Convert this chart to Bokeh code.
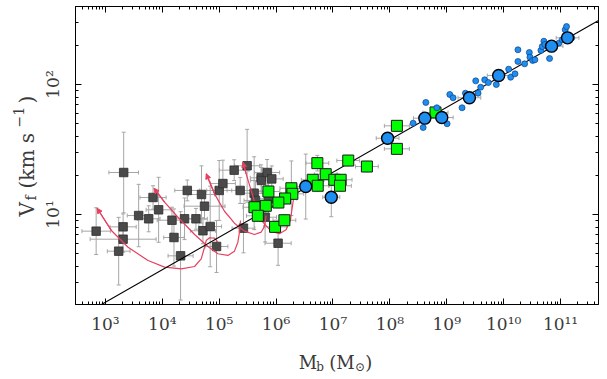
import math
from bokeh.plotting import figure
from bokeh.layouts import row, column
from bokeh.models import (Range1d, LogAxis, FixedTicker, ColumnDataSource, Whisker,
                          TeeHead, Arrow, NormalHead, Label)
from bokeh.embed import file_html
from bokeh.resources import INLINE

# ---------------- data (log10 Mb [Msun], log10 Vf [km/s], errors in dex) ----------------
gray_logm = [2.837, 3.321, 3.311, 3.311, 3.233, 3.584, 3.760, 3.837, 3.935, 4.170, 4.205, 4.321,
             4.391, 4.439, 4.591, 4.689, 4.714, 4.742, 4.842, 4.953, 5.000, 5.065, 5.263, 5.368,
             5.426, 5.491, 5.614, 5.637, 5.737, 5.742, 5.842, 5.807, 5.865, 6.035, 5.924]
gray_logv = [0.872, 1.323, 0.905, 0.810, 0.718, 0.992, 0.967, 1.131, 1.036, 0.956, 0.823, 0.682,
             0.967, 1.185, 0.967, 1.154, 0.875, 1.064, 0.908, 0.754, 1.185, 1.238, 1.341, 1.185,
             0.895, 1.375, 1.164, 1.108, 1.282, 1.262, 1.323, 0.979, 1.121, 0.779, 1.274]
gray_xerr = [0.25, 0.26, 0.23, 0.58, 0.20, 0.20, 0.20, 0.23, 0.22, 0.26, 0.18, 0.22,
             0.23, 0.22, 0.20, 0.23, 0.22, 0.36, 0.20, 0.20, 0.22, 0.22, 0.26, 0.23,
             0.20, 0.22, 0.22, 0.20, 0.19, 0.19, 0.22, 0.20, 0.20, 0.23, 0.20]
gray_yerr = [0.18, 0.31, 0.10, 0.10, 0.26, 0.24, 0.10, 0.09, 0.25, 0.10, 0.22, 0.34,
             0.16, 0.08, 0.08, 0.22, 0.10, 0.10, 0.31, 0.20, 0.23, 0.18, 0.08, 0.10,
             0.19, 0.28, 0.28, 0.15, 0.10, 0.10, 0.10, 0.19, 0.12, 0.17, 0.10]

green_logm = [6.725, 7.268, 7.596, 6.872, 6.644, 6.732, 7.023, 7.135, 7.123, 6.268, 6.286,
              6.158, 6.040, 5.865, 5.819, 5.619, 5.679, 5.982, 6.146, 8.123, 8.123, 8.802]
green_logv = [1.395, 1.415, 1.369, 1.310, 1.267, 1.221, 1.267, 1.267, 1.221, 1.202, 1.159,
              1.123, 1.092, 1.177, 1.067, 1.056, 0.990, 0.905, 0.956, 1.682, 1.505, 1.785]
green_xerr = [0.20, 0.20, 0.20, 0.20, 0.20, 0.20, 0.20, 0.20, 0.20, 0.20, 0.20,
              0.20, 0.20, 0.20, 0.20, 0.20, 0.20, 0.20, 0.20, 0.22, 0.22, 0.22]
green_yerr = [0.06, 0.04, 0.04, 0.04, 0.04, 0.04, 0.04, 0.04, 0.04, 0.21, 0.04,
              0.04, 0.04, 0.04, 0.04, 0.04, 0.04, 0.04, 0.04, 0.04, 0.04, 0.04]

big_logm = [6.521, 6.970, 7.960, 8.614, 8.912, 9.398, 9.912, 10.842, 11.123]
big_logv = [1.215, 1.133, 1.587, 1.741, 1.746, 1.898, 2.069, 2.295, 2.359]
big_xerr = [0.15, 0.15, 0.20, 0.20, 0.20, 0.20, 0.20, 0.20, 0.20]
big_yerr = [0.25, 0.15, 0.03, 0.03, 0.03, 0.03, 0.03, 0.03, 0.03]

small_logm = [8.632, 8.585, 8.409, 8.825, 9.006, 9.053, 9.111, 9.269, 9.328, 9.509, 9.550, 9.596,
              9.667, 9.731, 9.871, 10.088, 10.123, 10.199, 10.251, 10.251, 10.368, 10.451,
              10.462, 10.509, 10.549, 10.655, 10.679, 10.707, 10.725, 10.807, 10.784, 10.970,
              11.030, 11.082, 11.105, 11.198]
small_logv = [1.862, 1.669, 1.702, 1.821, 1.698, 1.923, 1.898, 1.821, 1.933, 2.028, 1.933, 1.979,
              2.036, 2.015, 2.000, 2.118, 2.056, 2.082, 2.177, 2.267, 2.159, 2.246,
              2.210, 2.185, 2.190, 2.262, 2.292, 2.333, 2.308, 2.200, 2.287, 2.318,
              2.344, 2.421, 2.446, 2.359]

# tidal-stripping tracks (start near the relation, end at the arrow head)
track1_logm = [4.977, 4.918, 4.830, 4.772, 4.742, 4.684, 4.567, 4.333, 4.040, 3.749, 3.398, 3.105, 2.854]
track1_logv = [0.787, 0.818, 0.821, 0.800, 0.748, 0.659, 0.600, 0.582, 0.595, 0.646, 0.748, 0.877, 1.048]
track2_logm = [5.374, 5.356, 5.328, 5.268, 5.153, 4.977, 4.802, 4.567, 4.275, 4.040, 3.854]
track2_logv = [0.954, 0.864, 0.787, 0.718, 0.685, 0.698, 0.754, 0.846, 0.979, 1.095, 1.202]
track3_logm = [5.825, 5.795, 5.737, 5.619, 5.444, 5.268, 5.093, 4.918, 4.772]
track3_logv = [0.992, 0.908, 0.864, 0.846, 0.872, 0.933, 1.025, 1.159, 1.313]
track4_logm = [6.307, 6.251, 6.175, 6.058, 5.912, 5.767, 5.649, 5.544, 5.474, 5.416]
track4_logv = [1.123, 0.954, 0.882, 0.852, 0.872, 0.941, 1.056, 1.210, 1.313, 1.402]

# baryonic Tully-Fisher relation  Mb = A * Vf^4
btfr_A = 50.0
btfr_slope = 4.0

x_tick_values = [1e3, 1e4, 1e5, 1e6, 1e7, 1e8, 1e9, 1e10, 1e11]
x_tick_labels = ["10³", "10⁴", "10⁵", "10⁶", "10⁷", "10⁸", "10⁹", "10¹⁰", "10¹¹"]
y_tick_values = [10.0, 100.0]
y_tick_labels = ["10¹", "10²"]

# ---------------- layout geometry (page pixels) ----------------
PAGE_W, PAGE_H = 607, 379
LEFT_W = 40              # strip holding the rotated y title
BOTTOM_H = 38            # strip holding the x title
MAIN_W = PAGE_W - LEFT_W
MAIN_H = PAGE_H - BOTTOM_H

X_LO, X_HI = 10 ** 2.474, 10 ** 11.667
Y_LO, Y_HI = 10 ** 0.3077, 10 ** 2.6
FONT = "DejaVu Serif"
TXT = "#3a3a3a"

p = figure(width=MAIN_W, height=MAIN_H, x_axis_type="log", y_axis_type="log",
           x_range=Range1d(X_LO, X_HI), y_range=Range1d(Y_LO, Y_HI),
           output_backend="svg", toolbar_location=None,
           min_border_left=74 - LEFT_W, min_border_right=PAGE_W - 598,
           min_border_top=6, min_border_bottom=MAIN_H - 304)
p.background_fill_color = "white"
p.border_fill_color = "white"
p.outline_line_color = "black"
p.outline_line_width = 1
p.xgrid.visible = False
p.ygrid.visible = False

x_minor = [k * 10 ** d for d in range(2, 12) for k in range(2, 10)]
y_minor = [k * 10 ** d for d in range(0, 3) for k in range(2, 10)]


def style_axis(ax, ticks, minor, show_labels):
    ax.ticker = FixedTicker(ticks=ticks, minor_ticks=minor)
    ax.axis_line_color = "black"
    ax.axis_line_width = 1
    ax.major_tick_in = 6
    ax.major_tick_out = 0
    ax.minor_tick_in = 3
    ax.minor_tick_out = 0
    ax.major_tick_line_color = "black"
    ax.minor_tick_line_color = "black"
    ax.major_label_text_font = FONT
    if show_labels:
        ax.major_label_text_font_size = "17px"
        ax.major_label_text_color = TXT
    else:
        ax.major_label_text_font_size = "1px"
        ax.major_label_text_color = None
        ax.major_label_standoff = 0


style_axis(p.xaxis[0], x_tick_values, x_minor, True)
p.xaxis[0].major_label_overrides = dict(zip(x_tick_values, x_tick_labels))
p.xaxis[0].major_label_standoff = 9
style_axis(p.yaxis[0], y_tick_values, y_minor, True)
p.yaxis[0].major_label_overrides = dict(zip(y_tick_values, y_tick_labels))
p.yaxis[0].major_label_orientation = "vertical"
p.yaxis[0].major_label_standoff = 12

top_ax = LogAxis()
style_axis(top_ax, x_tick_values, x_minor, False)
p.add_layout(top_ax, "above")
right_ax = LogAxis()
style_axis(right_ax, y_tick_values, y_minor, False)
p.add_layout(right_ax, "right")


def pw(a):
    return [10 ** v for v in a]


def add_errors(logm, logv, xerr, yerr, color):
    src = ColumnDataSource(dict(
        x=pw(logm), y=pw(logv),
        xl=[10 ** (m - e) for m, e in zip(logm, xerr)], xu=[10 ** (m + e) for m, e in zip(logm, xerr)],
        yl=[10 ** (v - e) for v, e in zip(logv, yerr)], yu=[10 ** (v + e) for v, e in zip(logv, yerr)]))
    for base, lo, hi, dim in (("y", "xl", "xu", "width"), ("x", "yl", "yu", "height")):
        w = Whisker(source=src, base=base, lower=lo, upper=hi, dimension=dim,
                    line_color=color, line_width=1,
                    lower_head=TeeHead(size=4, line_color=color, line_width=1),
                    upper_head=TeeHead(size=4, line_color=color, line_width=1))
        p.add_layout(w)


EB = "#a6a6a6"
add_errors(gray_logm, gray_logv, gray_xerr, gray_yerr, EB)
add_errors(green_logm, green_logv, green_xerr, green_yerr, EB)
add_errors(big_logm, big_logv, big_xerr, big_yerr, EB)

# gray squares
p.scatter(pw(gray_logm), pw(gray_logv), marker="square", size=8.5,
          fill_color="#4a4a4a", line_color="#2e2e2e", line_width=0.8)

# tracks
RED = "#e8405f"
for tm, tv in ((track1_logm, track1_logv), (track2_logm, track2_logv),
               (track3_logm, track3_logv), (track4_logm, track4_logv)):
    p.line(pw(tm), pw(tv), line_color=RED, line_width=1.2)
    p.add_layout(Arrow(end=NormalHead(size=5, fill_color=RED, line_color=RED, line_width=1),
                       x_start=10 ** tm[-2], y_start=10 ** tv[-2],
                       x_end=10 ** tm[-1], y_end=10 ** tv[-1],
                       line_color=RED, line_width=1.2, level="glyph"))

# BTFR line
lx = [X_LO, X_HI]
ly = [(m / btfr_A) ** (1.0 / btfr_slope) for m in lx]
p.line(lx, ly, line_color="black", line_width=1.1)

# green squares
p.scatter(pw(green_logm), pw(green_logv), marker="square", size=11,
          fill_color="#00ff00", line_color="#1a1a1a", line_width=1)

# small blue dots
BLUE = "#1f8ef1"
p.scatter(pw(small_logm), pw(small_logv), marker="circle", size=6,
          fill_color=BLUE, line_color="#0b3f86", line_width=0.7)

# big blue circles
p.scatter(pw(big_logm), pw(big_logv), marker="circle", size=12,
          fill_color=BLUE, line_color="black", line_width=1.4)


# ---------------- axis titles in their own strips (pixel data coords) ----------------
def text_strip(w, h):
    f = figure(width=w, height=h, x_range=Range1d(0, w), y_range=Range1d(0, h),
               min_border=0, toolbar_location=None, output_backend="svg",
               x_axis_location=None, y_axis_location=None)
    f.outline_line_color = None
    f.xgrid.visible = False
    f.ygrid.visible = False
    f.background_fill_color = "white"
    f.border_fill_color = "white"
    return f


def put(fig, txt, x, y, size, angle=0.0):
    fig.add_layout(Label(x=x, y=y, text=txt, text_font=FONT, text_font_size=f"{size}px",
                         text_color=TXT, angle=angle, text_align="left",
                         text_baseline="alphabetic"))


# x title: M_b (M_sun)   (page x - LEFT_W, PAGE_H - page y)
bx = text_strip(MAIN_W, BOTTOM_H)
put(bx, "M", 282 - LEFT_W, PAGE_H - 362, 18)
put(bx, "b", 301 - LEFT_W, PAGE_H - 366, 12)
put(bx, "(M", 315 - LEFT_W, PAGE_H - 362, 18)
put(bx, "⊙", 343 - LEFT_W, PAGE_H - 366, 12)
put(bx, ")", 354 - LEFT_W, PAGE_H - 362, 18)

# y title: V_f (km s^-1), rotated
ly_fig = text_strip(LEFT_W, PAGE_H)
R = math.pi / 2
put(ly_fig, "V", 26, PAGE_H - 216, 20, R)
put(ly_fig, "f", 30, PAGE_H - 200, 14, R)
put(ly_fig, "(km s", 26, PAGE_H - 188, 20, R)
put(ly_fig, "−1", 18, PAGE_H - 127, 14, R)
put(ly_fig, ")", 26, PAGE_H - 103, 20, R)

layout = row(ly_fig, column(p, bx))
open("out.html", "w").write(file_html(layout, INLINE))
